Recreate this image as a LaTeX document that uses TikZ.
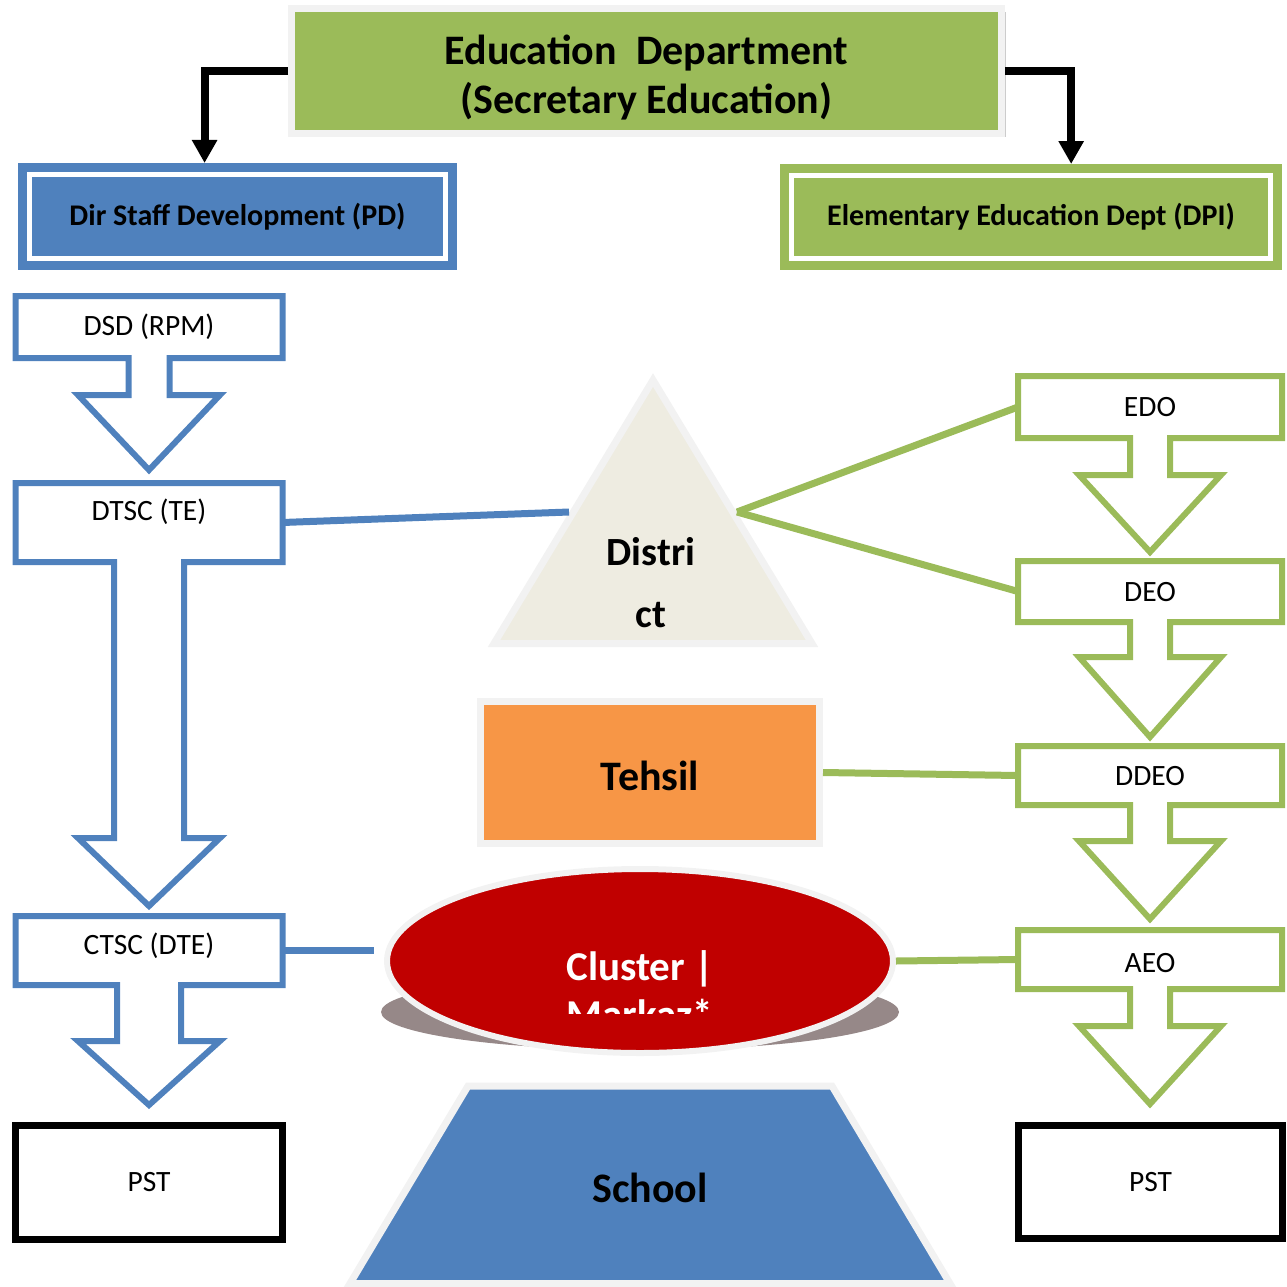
\documentclass[tikz,border=0pt]{standalone}
\usepackage{fontspec}
\setmainfont{Carlito}
\usetikzlibrary{calc}
\usetikzlibrary{arrows.meta}
\usetikzlibrary{shapes.geometric}
\usetikzlibrary{shadows}
\definecolor{bluec}{HTML}{4F81BD}
\definecolor{greenc}{HTML}{9BBB59}
\definecolor{orangec}{HTML}{F79646}
\definecolor{redc}{HTML}{C00000}
\definecolor{beigec}{HTML}{EEECE1}
\definecolor{framec}{HTML}{F2F2F2}
\definecolor{shadowc}{HTML}{968888}

\begin{document}
\begin{tikzpicture}[x=1pt, y=-1pt,
  lbl/.style={font=\fontsize{29.5}{34}\selectfont, inner sep=0pt},
  hdr/.style={font=\fontsize{30}{35}\selectfont\bfseries, inner sep=0pt, outer sep=11.5pt, double=white, double distance=5pt, line width=9pt},
  big/.style={font=\fontsize{41}{48}\selectfont\bfseries, inner sep=0pt, align=center},
  callout/.style={line width=6pt, line join=miter},
  link/.style={line width=7pt},
  conn/.style={line width=8pt, -{Triangle[length=23pt,width=24pt]}},
  frame/.style={draw=framec, line width=7pt}]
\path[use as bounding box] (0,0) rectangle (1286,1287);

\node[big, fill=greenc, frame, minimum width=710pt, minimum height=125pt, drop shadow={shadow xshift=4pt, shadow yshift=-4pt, fill=black!40}] (edu) at (646.5,71) {};
\node[big, font=\fontsize{42}{49}\selectfont\bfseries] (edutxt) at (646.5,78) {Education~ Department\\(Secretary Education)};
\node[hdr, fill=bluec, draw=bluec, minimum width=416pt, minimum height=84pt] (dsdev) at (237.5,216.5) {Dir Staff Development (PD)};
\node[hdr, fill=greenc, draw=greenc, minimum width=479pt, minimum height=83pt] (eed) at (1031,217) {Elementary Education Dept (DPI)};
\draw[conn] (edu.west) -| ($(dsdev.north west)!0.425!(dsdev.north east)$);
\draw[conn] (edu.east) -| ($(eed.north west)!0.58!(eed.north east)$);

\foreach \nm/\txt/\col/\xa/\xb/\ya/\yb/\ty/\hw/\wy/\tp in {
  dsd/{DSD (RPM)}/bluec/15.5/282.5/296/358/327/20.5/395/470,
  dtsc/{DTSC (TE)}/bluec/15.5/282.5/483/562/512/35/838/906,
  ctsc/{CTSC (DTE)}/bluec/15.5/282.5/916/985/946/32/1041/1105,
  edo/EDO/greenc/1018/1282/376/438/407/20/475/552,
  deo/DEO/greenc/1018/1282/561/622/592/20/657/737,
  ddeo/DDEO/greenc/1018/1282/746/805/776/20/841/919,
  aeo/AEO/greenc/1018/1282/930/989/963/20/1026/1104}{
  \pgfmathsetmacro\cx{(\xa+\xb)/2}
  \draw[\col, callout] (\xa,\ya) -- (\xb,\ya) -- (\xb,\yb) -- (\cx+\hw,\yb) -- (\cx+\hw,\wy) -- (\cx+71,\wy) -- (\cx,\tp)
    -- (\cx-71,\wy) -- (\cx-\hw,\wy) -- (\cx-\hw,\yb) -- (\xa,\yb) -- cycle;
  \node[lbl] (\nm) at (\cx,\ty) {\txt};
  \coordinate (\nm-w) at (\xa,{(\ya+\yb)/2});
  \coordinate (\nm-e) at (\xb,{(\ya+\yb)/2});
}

\draw[fill=beigec, frame, line join=miter] (494,643.5) -- (653,380) -- (812,643.5) -- cycle;
\node[big, font=\fontsize{40}{62}\selectfont\bfseries] (dist) at (651,583) {Distri\\ct};
\coordinate (dist-w) at (569,512);
\coordinate (dist-e) at (737,512);
\draw[bluec, link] (dtsc-e) -- (dist-w);
\draw[greenc, link] (dist-e) -- (edo-w);
\draw[greenc, link] (dist-e) -- (deo-w);

\node[big, fill=orangec, frame, minimum width=339pt, minimum height=142pt] (tehsil) at (650,772.5) {};
\node[big, font=\fontsize{42}{48}\selectfont\bfseries] (tehsiltxt) at (650,776) {Tehsil};
\draw[greenc, link] (tehsil.east) -- (ddeo-w);

\fill[shadowc] (640,1012) ellipse [x radius=259, y radius=38];
\node[ellipse, fill=redc, draw=framec, line width=6pt, minimum width=506pt, minimum height=184pt] (cluster) at (640,961) {};
\begin{scope}
\clip (380,900) rectangle (900,1013);
\node[big, text=white] (markaz) at (640,990) {Cluster |\\Markaz*};
\end{scope}
\draw[bluec, link] (ctsc-e) -- ($(ctsc-e -| cluster.west)+(-10,0)$);
\draw[greenc, link] (cluster.east) -- (aeo-w);

\draw[fill=bluec, frame, line join=miter] (350,1283.5) -- (468,1086) -- (832,1086) -- (950,1283.5) -- cycle;
\node[big, font=\fontsize{42}{48}\selectfont\bfseries] (school) at (650,1188) {School};

\node[lbl, draw=black, line width=7pt, minimum width=267pt, minimum height=114pt] (pstl) at (149,1182.5) {PST};
\node[lbl, draw=black, line width=7pt, minimum width=264pt, minimum height=113pt] (pstr) at (1150.5,1182) {PST};
\end{tikzpicture}
\end{document}
